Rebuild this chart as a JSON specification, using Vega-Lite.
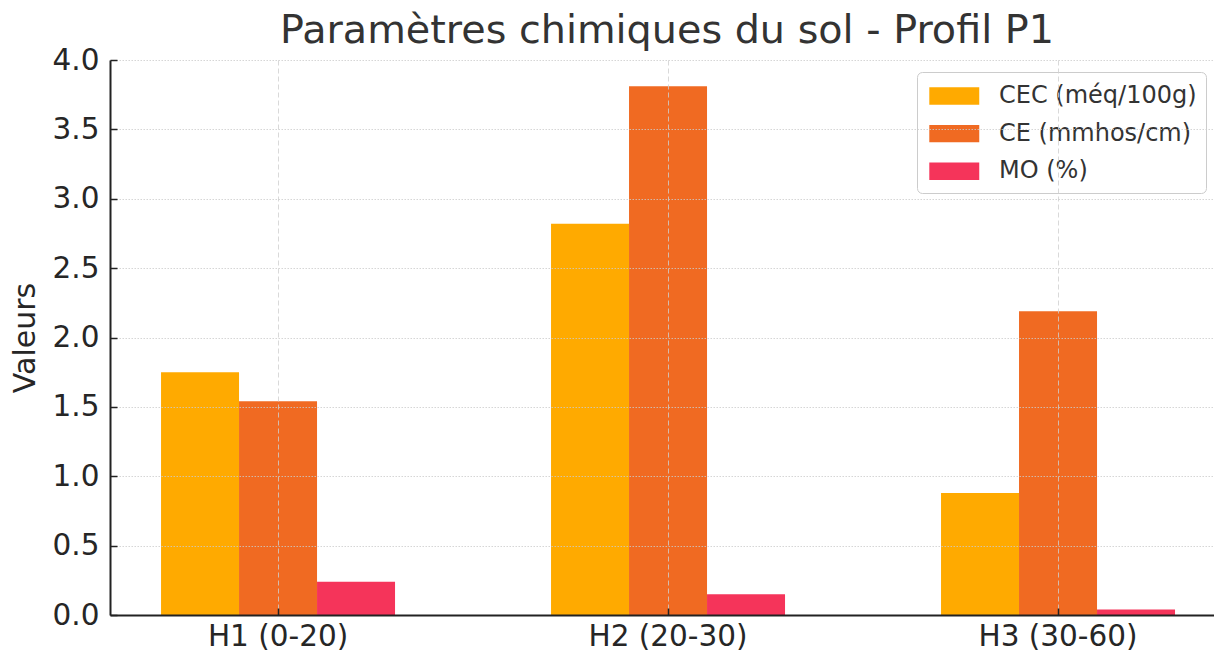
{
  "$schema": "https://vega.github.io/schema/vega-lite/v6.json",
  "width": 1104,
  "height": 555,
  "autosize": "none",
  "padding": {"left": 110, "top": 60, "right": 0, "bottom": 36},
  "background": "white",
  "title": {
    "text": "Paramètres chimiques du sol - Profil P1",
    "fontSize": 39.7,
    "font": "DejaVu Sans",
    "fontWeight": "normal",
    "color": "#333333",
    "anchor": "middle",
    "dx": 5,
    "baseline": "alphabetic",
    "offset": -38
  },
  "data": {
    "values": [
      {"horizon": "H1 (0-20)", "parametre": "CEC (méq/100g)", "valeur": 1.75},
      {"horizon": "H1 (0-20)", "parametre": "CE (mmhos/cm)", "valeur": 1.54},
      {"horizon": "H1 (0-20)", "parametre": "MO (%)", "valeur": 0.24},
      {"horizon": "H2 (20-30)", "parametre": "CEC (méq/100g)", "valeur": 2.82},
      {"horizon": "H2 (20-30)", "parametre": "CE (mmhos/cm)", "valeur": 3.81},
      {"horizon": "H2 (20-30)", "parametre": "MO (%)", "valeur": 0.15},
      {"horizon": "H3 (30-60)", "parametre": "CEC (méq/100g)", "valeur": 0.88},
      {"horizon": "H3 (30-60)", "parametre": "CE (mmhos/cm)", "valeur": 2.19},
      {"horizon": "H3 (30-60)", "parametre": "MO (%)", "valeur": 0.04}
    ]
  },
  "mark": {"type": "bar"},
  "encoding": {
    "x": {
      "field": "horizon",
      "type": "nominal",
      "sort": ["H1 (0-20)", "H2 (20-30)", "H3 (30-60)"],
      "scale": {"paddingInner": 0.4, "paddingOuter": 0.1154, "align": 0.567},
      "axis": {
        "title": null,
        "labelAngle": 0,
        "labelFontSize": 29.5,
        "labelColor": "#262626",
        "labelPadding": 14,
        "tickSize": -7,
        "tickColor": "#222222",
        "tickWidth": 1.5,
        "domainColor": "#222222",
        "domainWidth": 2,
        "grid": true,
        "gridColor": "#cfcfcf",
        "gridOpacity": 0.8,
        "gridDash": [5, 3],
        "gridWidth": 1,
        "zindex": 1
      }
    },
    "xOffset": {
      "field": "parametre",
      "type": "nominal",
      "sort": ["CEC (méq/100g)", "CE (mmhos/cm)", "MO (%)"],
      "scale": {"paddingInner": 0, "paddingOuter": 0}
    },
    "y": {
      "field": "valeur",
      "type": "quantitative",
      "scale": {"domain": [0, 4], "nice": false},
      "axis": {
        "title": "Valeurs",
        "titleFontSize": 30,
        "titleFontWeight": "normal",
        "titleColor": "#262626",
        "titlePadding": 12,
        "values": [0, 0.5, 1, 1.5, 2, 2.5, 3, 3.5, 4],
        "format": ".1f",
        "labelFontSize": 29.5,
        "labelColor": "#262626",
        "labelPadding": 18,
        "tickSize": -7,
        "tickColor": "#222222",
        "tickWidth": 1.5,
        "domainColor": "#222222",
        "domainWidth": 2,
        "grid": true,
        "gridColor": "#cccccc",
        "gridOpacity": 0.8,
        "gridDash": [1.5, 1.5],
        "gridWidth": 1,
        "zindex": 1
      }
    },
    "color": {
      "field": "parametre",
      "type": "nominal",
      "sort": ["CEC (méq/100g)", "CE (mmhos/cm)", "MO (%)"],
      "scale": {
        "domain": ["CEC (méq/100g)", "CE (mmhos/cm)", "MO (%)"],
        "range": ["#FFAA00", "#F06A22", "#F5345A"]
      },
      "legend": {
        "orient": "none",
        "legendX": 807,
        "legendY": 12,
        "title": null,
        "labelFontSize": 24,
        "labelColor": "#333333",
        "labelLimit": 400,
        "symbolType": "M-0.78,-0.58H2.55V0.58H-0.78Z",
        "symbolSize": 900,
        "symbolStrokeWidth": 0,
        "symbolOpacity": 1,
        "rowPadding": 10.6,
        "padding": 9,
        "strokeColor": "#cccccc",
        "fillColor": "white",
        "cornerRadius": 5,
        "labelOffset": 43
      }
    }
  },
  "config": {
    "view": {"stroke": null},
    "font": "DejaVu Sans"
  }
}
